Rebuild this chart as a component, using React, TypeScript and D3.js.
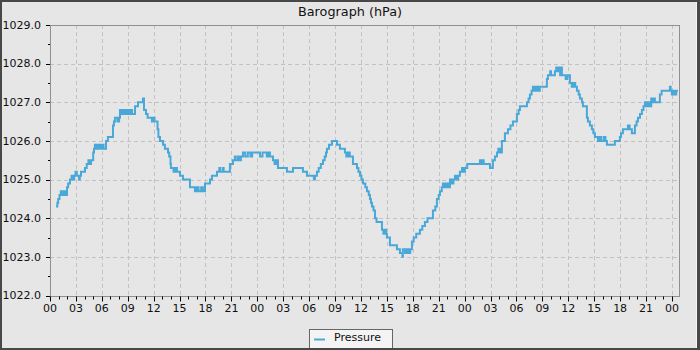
import React from "react";
import * as d3 from "d3";

const TITLE = "Barograph (hPa)";
const SERIES_NAME = "Pressure";

// hours since the first 00 on the axis
const hours = [
  0.69, 0.85, 0.95, 1.1, 1.25, 1.35, 1.5, 1.6, 1.75, 1.85, 1.97, 2.1, 2.31, 2.5, 2.66, 2.8, 2.95, 3.1, 3.36, 3.45,
  3.59, 4.05, 4.25, 4.45, 4.6, 4.75, 5.0, 5.09, 5.2, 5.4, 5.6, 5.8, 6.0, 6.2, 6.48, 6.7, 7.29, 7.4, 7.52, 7.8,
  8.0, 8.1, 8.3, 8.5, 8.7, 8.9, 9.1, 9.3, 9.5, 9.84, 10.19, 10.76, 10.88, 11.11, 11.3, 11.57, 11.8, 12.0, 12.1, 12.45,
  12.55, 12.73, 13.08, 13.3, 13.66, 13.8, 13.95, 14.0, 14.3, 14.5, 14.7, 15.05, 15.39, 16.2, 16.78, 17.0, 17.2, 17.5, 17.7, 17.94,
  18.52, 18.75, 19.33, 19.6, 19.7, 20.0, 20.1, 20.83, 21.18, 21.4, 21.5, 21.76, 21.9, 22.1, 22.34, 22.6, 22.9, 23.2, 23.4, 24.31,
  24.6, 24.88, 25.1, 25.3, 25.46, 25.81, 26.0, 26.2, 26.39, 27.43, 28.13, 29.28, 29.75, 30.55, 30.67, 30.9, 31.1, 31.35, 31.6, 31.8,
  31.95, 32.06, 32.3, 32.64, 33.22, 33.56, 34.14, 34.3, 34.5, 34.7, 35.07, 35.53, 35.7, 35.88, 36.05, 36.23, 36.5, 36.69, 36.9, 37.04,
  37.15, 37.27, 37.45, 37.62, 37.8, 38.43, 38.6, 38.75, 38.9, 39.0, 39.35, 40.16, 40.51, 40.8, 40.85, 41.1, 41.3, 41.5, 41.7, 41.9,
  42.1, 42.4, 42.82, 43.1, 43.4, 43.7, 44.33, 44.6, 44.79, 45.0, 45.14, 45.35, 45.49, 45.7, 45.9, 46.1, 46.3, 46.5, 46.7, 46.88,
  47.1, 47.25, 47.45, 47.7, 47.85, 48.03, 48.3, 49.77, 49.9, 50.1, 50.2, 50.93, 51.27, 51.5, 51.74, 51.9, 52.1, 52.31, 52.66, 53.01,
  53.3, 53.59, 54.05, 54.25, 54.4, 55.21, 55.4, 55.56, 55.75, 55.9, 56.1, 56.3, 56.5, 56.7, 57.52, 57.64, 57.9, 58.0, 58.45, 58.6,
  58.8, 58.95, 59.05, 59.15, 59.26, 59.7, 59.9, 60.19, 60.4, 60.6, 60.8, 61.0, 61.2, 61.34, 61.57, 61.69, 62.15, 62.27, 62.5, 62.73,
  62.9, 63.08, 63.43, 63.6, 63.8, 64.1, 64.3, 64.47, 65.39, 65.97, 66.1, 66.32, 66.9, 67.1, 67.36, 67.71, 67.9, 68.06, 68.3, 68.52,
  68.7, 68.87, 69.1, 69.3, 69.44, 69.6, 69.8, 69.9, 70.02, 70.6, 70.8, 71.18, 71.76, 71.85, 71.99, 72.2, 72.4, 72.5, 72.69,
];

const pressure = [
  1024.3, 1024.4, 1024.5, 1024.6, 1024.7, 1024.6, 1024.7, 1024.6, 1024.7, 1024.6, 1024.8, 1024.9, 1025.0, 1025.1, 1025.0, 1025.1, 1025.2, 1025.1, 1025.0, 1025.1,
  1025.2, 1025.3, 1025.4, 1025.5, 1025.4, 1025.5, 1025.7, 1025.8, 1025.9, 1025.8, 1025.9, 1025.8, 1025.9, 1025.8, 1026.0, 1026.1, 1026.4, 1026.5, 1026.6, 1026.5,
  1026.6, 1026.8, 1026.7, 1026.8, 1026.7, 1026.8, 1026.7, 1026.8, 1026.7, 1026.9, 1027.0, 1027.1, 1026.8, 1026.7, 1026.6, 1026.6, 1026.5, 1026.6, 1026.5, 1026.3,
  1026.1, 1026.0, 1025.9, 1025.8, 1025.7, 1025.6, 1025.4, 1025.3, 1025.2, 1025.3, 1025.2, 1025.1, 1025.0, 1024.8, 1024.7, 1024.8, 1024.7, 1024.8, 1024.7, 1024.9,
  1025.0, 1025.1, 1025.2, 1025.3, 1025.2, 1025.3, 1025.2, 1025.4, 1025.5, 1025.6, 1025.5, 1025.6, 1025.5, 1025.6, 1025.7, 1025.6, 1025.7, 1025.6, 1025.7, 1025.6,
  1025.7, 1025.7, 1025.6, 1025.7, 1025.6, 1025.5, 1025.4, 1025.5, 1025.3, 1025.2, 1025.3, 1025.2, 1025.1, 1025.0, 1025.1, 1025.2, 1025.3, 1025.4, 1025.5, 1025.6,
  1025.7, 1025.8, 1025.9, 1026.0, 1025.9, 1025.8, 1025.7, 1025.6, 1025.7, 1025.6, 1025.4, 1025.3, 1025.2, 1025.1, 1025.0, 1024.9, 1024.8, 1024.7, 1024.6, 1024.5,
  1024.4, 1024.3, 1024.2, 1024.0, 1023.9, 1023.7, 1023.6, 1023.7, 1023.6, 1023.5, 1023.3, 1023.2, 1023.1, 1023.0, 1023.2, 1023.1, 1023.2, 1023.1, 1023.2, 1023.4,
  1023.5, 1023.6, 1023.7, 1023.8, 1023.9, 1024.0, 1024.2, 1024.3, 1024.5, 1024.6, 1024.7, 1024.8, 1024.9, 1024.8, 1024.9, 1024.8, 1025.0, 1024.9, 1025.0, 1025.1,
  1025.0, 1025.1, 1025.2, 1025.3, 1025.2, 1025.3, 1025.4, 1025.5, 1025.4, 1025.5, 1025.4, 1025.3, 1025.5, 1025.6, 1025.7, 1025.8, 1025.7, 1026.0, 1026.2, 1026.3,
  1026.4, 1026.5, 1026.7, 1026.8, 1026.9, 1027.0, 1027.1, 1027.2, 1027.3, 1027.4, 1027.3, 1027.4, 1027.3, 1027.4, 1027.6, 1027.7, 1027.8, 1027.7, 1027.8, 1027.9,
  1027.8, 1027.9, 1027.7, 1027.9, 1027.7, 1027.6, 1027.7, 1027.5, 1027.4, 1027.5, 1027.4, 1027.3, 1027.2, 1027.1, 1027.0, 1026.9, 1026.6, 1026.5, 1026.4, 1026.3,
  1026.2, 1026.1, 1026.0, 1026.1, 1026.0, 1026.1, 1026.0, 1025.9, 1026.0, 1026.1, 1026.2, 1026.3, 1026.4, 1026.3, 1026.2, 1026.4, 1026.5, 1026.6, 1026.7, 1026.8,
  1026.9, 1027.0, 1026.9, 1027.0, 1026.9, 1027.1, 1027.0, 1027.1, 1027.0, 1027.2, 1027.3, 1027.3, 1027.4, 1027.3, 1027.2, 1027.3, 1027.2, 1027.3, 1027.3,
];

const yTicks = [1022, 1023, 1024, 1025, 1026, 1027, 1028, 1029];
const xDomain = [0, 72.93];

const W = 700;
const H = 350;
const BG = "#e6e6e6";
const LINE = "#4aa8d8";
const FONT = "DejaVu Sans, sans-serif";

export default function App() {
  const left = 50, right = 680, top = 25, bottom = 295.5;
  const x = d3.scaleLinear().domain(xDomain).range([left, right]);
  const y = d3.scaleLinear().domain([1022, 1029]).range([bottom, top]);

  const data = hours.map((h, i) => ({ h, p: pressure[i] }));
  const line = d3
    .line<{ h: number; p: number }>()
    .x((d) => x(d.h))
    .y((d) => y(d.p))
    .curve(d3.curveStepAfter);

  const hourTicks = d3.range(0, Math.floor(xDomain[1]) + 1, 1);
  const majorX = hourTicks.filter((h) => h % 3 === 0);
  const minorY = d3.range(1022.5, 1029, 1);
  const fmt = d3.format("02d");
  const px = (v: number) => Math.round(v) + 0.5;
  const bx = Math.round(bottom) + 0.5;

  return (
    <svg width={W} height={H} style={{ display: "block" }} fontFamily={FONT}>
      <style>{"body{margin:0}"}</style>
      <rect x={0} y={0} width={W} height={H} fill="#484848" />
      <rect x={2} y={2} width={695} height={346} fill={BG} />
      <line x1={696.5} y1={2} x2={696.5} y2={348} stroke="#f6f6f6" />
      <text x={350} y={16} textAnchor="middle" fontSize={12.8} fill="#111">
        {TITLE}
      </text>

      {/* grid */}
      {majorX.filter((h) => h > 0).map((h) => (
        <line key={"gx" + h} x1={px(x(h))} x2={px(x(h))} y1={top} y2={bottom} stroke="#c2c2c2" strokeDasharray="4,3" />
      ))}
      {yTicks.filter((v) => v > 1022 && v < 1029).map((v) => (
        <line key={"gy" + v} x1={left} x2={right} y1={px(y(v))} y2={px(y(v))} stroke="#c2c2c2" strokeDasharray="4,3" />
      ))}

      {/* plot frame */}
      <rect x={left + 0.5} y={top + 0.5} width={right - left - 1} height={bx - top - 0.5} fill="none" stroke="#8f8f8f" />

      {/* data */}
      <path d={line(data) || ""} fill="none" stroke={LINE} strokeWidth={2} />

      {/* y axis ticks */}
      {yTicks.map((v) => (
        <g key={"yt" + v}>
          <line x1={left - 4} x2={left} y1={px(y(v))} y2={px(y(v))} stroke="#000" />
          <text x={41} y={y(v)} dy="0.35em" textAnchor="end" fontSize={11} fill="#111">
            {v.toFixed(1)}
          </text>
        </g>
      ))}
      {minorY.map((v) => (
        <line key={"ym" + v} x1={left - 2} x2={left} y1={px(y(v))} y2={px(y(v))} stroke="#000" />
      ))}

      {/* x axis ticks */}
      {hourTicks.map((h) => (
        <line key={"xt" + h} x1={px(x(h))} x2={px(x(h))} y1={bx} y2={bx + (h % 3 === 0 ? 5 : 3)} stroke="#000" />
      ))}
      {majorX.map((h) => (
        <text key={"xl" + h} x={x(h)} y={312} textAnchor="middle" fontSize={11} fill="#111">
          {fmt(h % 24)}
        </text>
      ))}

      {/* legend */}
      <rect x={309.5} y={329.5} width={83} height={20} fill="#f4f4f4" stroke="#666" />
      <line x1={314} x2={325} y1={339.5} y2={339.5} stroke={LINE} strokeWidth={2} />
      <text x={334} y={341} fontSize={11} fill="#111">
        {SERIES_NAME}
      </text>
      <rect x={0} y={348} width={W} height={2} fill="#484848" />
    </svg>
  );
}
